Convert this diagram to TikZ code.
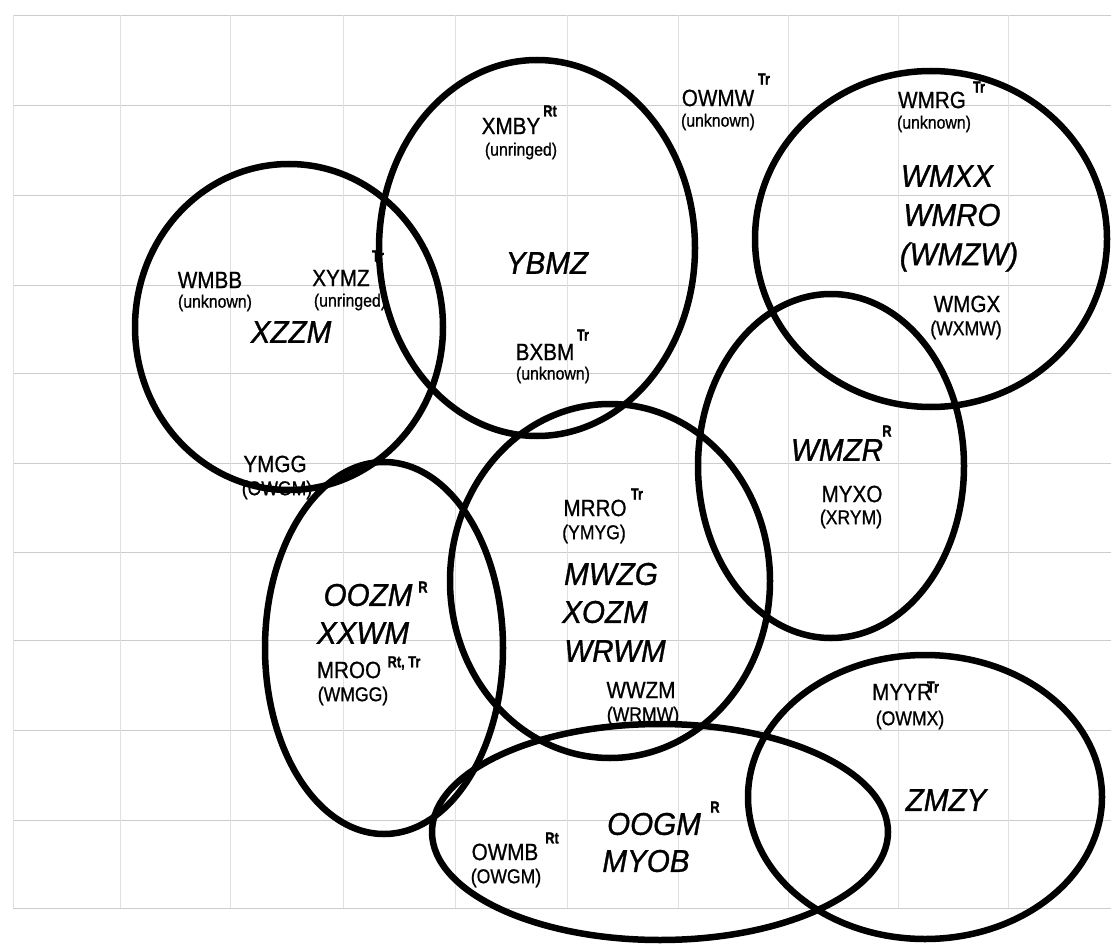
\documentclass[tikz,border=0pt]{standalone}
\usepackage{fontspec}
\setmainfont{Liberation Sans}
\newfontfamily\narrowf[FakeStretch=0.88,FakeBold=0.8]{Liberation Sans}
\newfontfamily\bigf[FakeStretch=0.94,FakeBold=1]{Liberation Sans}
\newfontfamily\supf[FakeStretch=0.8,FakeBold=1.2]{Liberation Sans}
\begin{document}
\begin{tikzpicture}[x=1pt,y=-1pt,
  ring/.style={line width=6.5pt, draw=black},
  hgrid/.style={draw=black!20, line width=0.7pt},
  vgrid/.style={draw=black!12, line width=0.6pt},
  bigit/.style={inner sep=0pt, font=\bigf\fontsize{31.5}{32}\selectfont\itshape},
  lab/.style={inner sep=0pt, font=\narrowf\fontsize{23.5}{24}\selectfont},
  par/.style={inner sep=0pt, font=\narrowf\fontsize{20}{20}\selectfont},
  unk/.style={inner sep=0pt, font=\narrowf\fontsize{18}{18}\selectfont},
  supr/.style={inner sep=0pt, font=\supf\fontsize{16}{16}\selectfont\bfseries}]
\useasboundingbox (0,0) rectangle (1111,944);
\fill[white] (0,0) rectangle (1111,944);
% faint ruled background
\foreach \yy in {15,105,195,285,373,463,552,640,730,820,908}
  \draw[hgrid] (13,\yy) -- (1111,\yy);
\foreach \xx in {13,120,230,343,455,567,678,788,898,1008}
  \draw[vgrid] (\xx,15) -- (\xx,908);
% rings
\draw[ring] (289,327) ellipse [x radius=154, y radius=163];
\draw[ring] (537,248) ellipse [x radius=158, y radius=188];
\draw[ring] (931,239) ellipse [x radius=176, y radius=168];
\draw[ring] (831,466) ellipse [x radius=133, y radius=172];
\draw[ring] (610,581) ellipse [x radius=160, y radius=177];
\draw[ring] (384,648) ellipse [x radius=119, y radius=186];
\draw[ring] (660,832) ellipse [x radius=228, y radius=108];
\draw[ring] (925,797) ellipse [x radius=177, y radius=142];
% ring 1
\node[lab] (wmbb) at (210,280) {WMBB};
\node[unk] (wmbbu) at (215,303) {(unknown)};
\node[lab] (xymz) at (341,278) {XYMZ};
\node[supr] (xymzs) at (378,256) {Tr};
\node[unk] (xymzu) at (350,302) {(unringed)};
\node[bigit] (xzzm) at (291,332) {XZZM};
\node[lab] (ymgg) at (275,464) {YMGG};
\node[par] (ymggp) at (277,490) {(OWGM)};
% ring 2
\node[lab] (xmby) at (511,126) {XMBY};
\node[supr] (xmbys) at (550,111) {Rt};
\node[unk] (xmbyu) at (521,151) {(unringed)};
\node[bigit] (ybmz) at (547,263) {YBMZ};
\node[lab] (bxbm) at (545,352) {BXBM};
\node[supr] (bxbms) at (583,335) {Tr};
\node[unk] (bxbmu) at (553,375) {(unknown)};
% outside
\node[lab] (owmw) at (718,98) {OWMW};
\node[supr] (owmws) at (764,79) {Tr};
\node[unk] (owmwu) at (718,122) {(unknown)};
% ring 3
\node[lab] (wmrg) at (932,100) {WMRG};
\node[supr] (wmrgs) at (979,87) {Tr};
\node[unk] (wmrgu) at (934,124) {(unknown)};
\node[bigit] (wmxx) at (947,176) {WMXX};
\node[bigit] (wmro) at (952,215) {WMRO};
\node[bigit] (wmzw) at (959,257) {(WMZW)};
\node[lab] (wmgx) at (967,304) {WMGX};
\node[par] (wmgxp) at (966,330) {(WXMW)};
% ring 4
\node[bigit] (wmzr) at (837,450) {WMZR};
\node[supr] (wmzrs) at (887,431) {R};
\node[lab] (myxo) at (852,494) {MYXO};
\node[par] (myxop) at (851,519) {(XRYM)};
% ring 5
\node[lab] (mrro) at (595,508) {MRRO};
\node[supr] (mrros) at (637,494) {Tr};
\node[par] (mrrop) at (594,534) {(YMYG)};
\node[bigit] (mwzg) at (611,574) {MWZG};
\node[bigit] (xozm) at (605,612) {XOZM};
\node[bigit] (wrwm) at (615,651) {WRWM};
\node[lab] (wwzm) at (641,690) {WWZM};
\node[par] (wwzmp) at (643,716) {(WRMW)};
% ring 6
\node[bigit] (oozm) at (368,595) {OOZM};
\node[supr] (oozms) at (423,587) {R};
\node[bigit] (xxwm) at (363,633) {XXWM};
\node[lab] (mroo) at (349,670) {MROO};
\node[supr] (mroos) at (404,663) {Rt, Tr};
\node[par] (moop) at (353,696) {(WMGG)};
% ring 7
\node[lab] (owmb) at (505,852) {OWMB};
\node[supr] (owmbs) at (552,838) {Rt};
\node[par] (owmbp) at (506,878) {(OWGM)};
\node[bigit] (oogm) at (654,824) {OOGM};
\node[supr] (oogms) at (715,807) {R};
\node[bigit] (myob) at (646,861) {MYOB};
% ring 8
\node[lab] (myyr) at (902,692) {MYYR};
\node[supr] (myyrs) at (933,687) {Tr};
\node[par] (myyrp) at (910,720) {(OWMX)};
\node[bigit] (zmzy) at (946,800) {ZMZY};
\end{tikzpicture}
\end{document}
